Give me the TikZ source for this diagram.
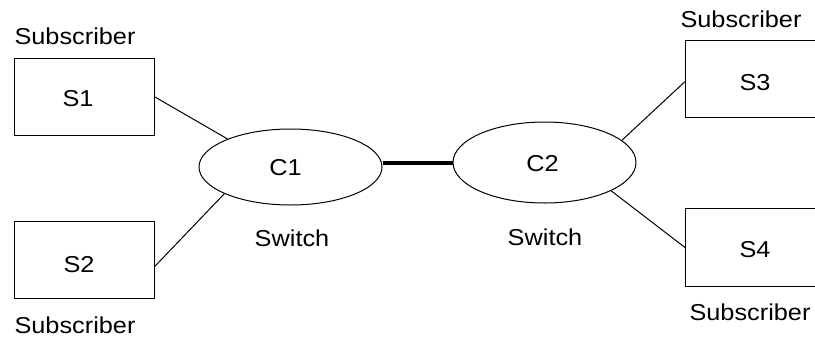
\documentclass[tikz,border=0pt]{standalone}
\usepackage{fontspec}
\setmainfont{Liberation Sans}[FakeStretch=1.1]
\usetikzlibrary{shapes.geometric}
\tikzset{
  box/.style={draw, line width=1pt, rectangle, inner sep=0pt, anchor=north west},
  switchnode/.style={draw, line width=1pt, ellipse, inner sep=0pt, minimum width=183pt, minimum height=#1},
  lbl/.style={inner sep=0pt, anchor=base, font=\fontsize{23pt}{26pt}\selectfont},
  link/.style={line width=1pt},
  trunk/.style={line width=4pt}
}
\begin{document}
\begin{tikzpicture}[x=1pt, y=-1pt]
\useasboundingbox (0,0) rectangle (815,341);
\clip (0,0) rectangle (815,341);
% subscriber boxes
\node[box, minimum width=140pt, minimum height=77pt] (s1) at (14,58) {};
\node[box, minimum width=140pt, minimum height=77pt] (s2) at (14,221) {};
\node[box, minimum width=145pt, minimum height=77pt] (s3) at (685,40) {};
\node[box, minimum width=145pt, minimum height=78pt] (s4) at (685,208) {};
% switches
\node[switchnode=76pt] (c1) at (290.5,167) {};
\node[switchnode=81pt] (c2) at (544.5,162.5) {};
% texts
\node[lbl] (t1) at (78,106) {S1};
\node[lbl] (t2) at (79,272) {S2};
\node[lbl] (t3) at (755,90) {S3};
\node[lbl] (t4) at (755,257) {S4};
\node[lbl] (tc1) at (285.5,175) {C1};
\node[lbl] (tc2) at (542.5,171) {C2};
\node[lbl] (w1) at (292,246) {Switch};
\node[lbl] (w2) at (545,245) {Switch};
\node[lbl] (u1) at (75,44) {Subscriber};
\node[lbl] (u2) at (75,333) {Subscriber};
\node[lbl] (u3) at (741,27) {Subscriber};
\node[lbl] (u4) at (750,320) {Subscriber};
% connectors
\draw[link] (s1.east) -- (c1.156);
\draw[link] (s2.-5.7) -- (c1.202);
\draw[link] (c2.16) -- (s3.182.8);
\draw[link] (c2.337) -- (s4.west);
\draw[trunk] (c2.west -| c1.east) -- (c2.west);
\end{tikzpicture}
\end{document}
